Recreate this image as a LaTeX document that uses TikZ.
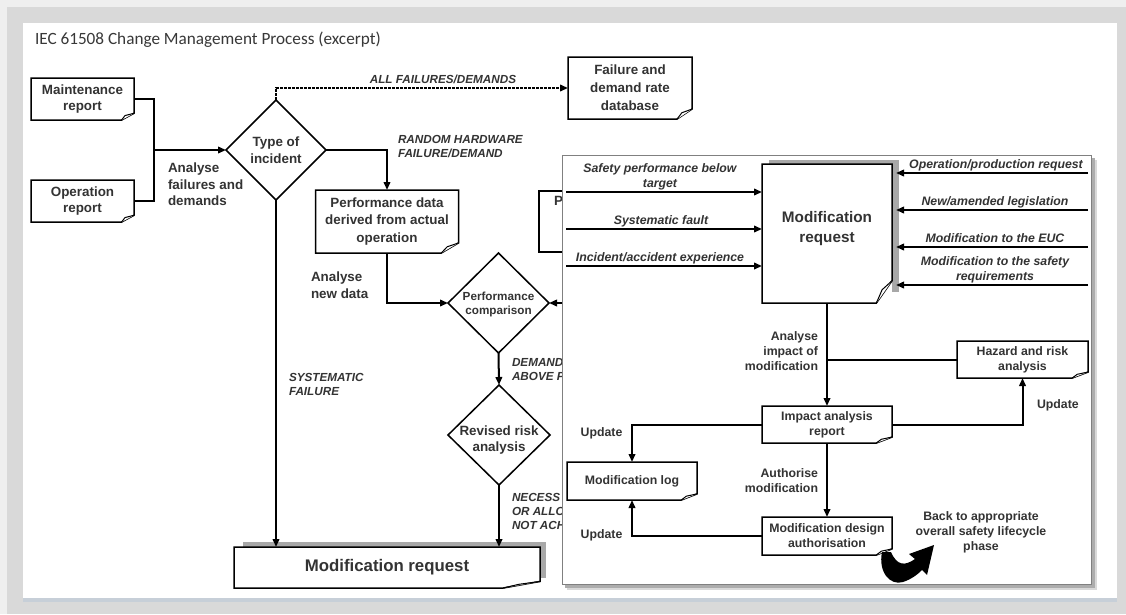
\documentclass[tikz,border=0pt]{standalone}
\usepackage{fontspec}
\setmainfont{Liberation Sans}
\newfontfamily\titlefont{Carlito}
\usetikzlibrary{arrows.meta,calc,shapes.geometric}

\definecolor{pagegray}{HTML}{D9D9D9}
\definecolor{pageedge}{HTML}{EFEFEF}
\definecolor{pageshade}{HTML}{C7CFD8}
\definecolor{inkgray}{HTML}{333333}
\definecolor{framegray}{HTML}{808080}
\definecolor{shadowgray}{HTML}{A8A8A8}

% outline of a document box: rectangle with a turned-down bottom right corner
\newcommand\docbox[1]{%
  \draw[boxline]
    (#1.north west) -- (#1.north east)
    -- ($(#1.south east)!0.16!(#1.north east)$) coordinate (#1-fa)
    -- ($(#1.south east)!0.12!(#1.south west)$) coordinate (#1-fb)
    -- (#1.south west) -- cycle;
  \draw[foldline] (#1-fb) -- ($(#1-fa)!0.5!(#1-fb)!3pt!(#1.center)$) -- (#1-fa);
}

\begin{document}
\begin{tikzpicture}[x=1pt,y=-1pt,
  every node/.style={inner sep=0pt, outer sep=0pt, text=inkgray},
  conn/.style={line width=2pt},
  arr/.style={conn, -{Triangle[length=8pt,width=6.5pt]}},
  boxline/.style={line width=1.5pt, line join=miter},
  foldline/.style={line width=1pt, fill=white, line join=round},
  doc/.style 2 args={fill=white, minimum width=#1, minimum height=#2, align=center},
  dia/.style 2 args={diamond, draw, line width=1.5pt, fill=white, minimum width=#1, minimum height=#2},
  ltxt/.style={font=\fontsize{13.4}{16.5}\bfseries\selectfont, align=center},
  lcap/.style={font=\fontsize{11.7}{14}\bfseries\itshape\selectfont, align=left},
  otxt/.style={font=\fontsize{12.3}{15}\bfseries\selectfont, align=center},
  oital/.style={font=\fontsize{12.3}{15}\bfseries\itshape\selectfont, align=center},
]
\useasboundingbox (0,0) rectangle (1126,614);

% page and sheet
\fill[pageedge] (0,0) rectangle (1126,614);
\fill[pagegray] (7,7) rectangle (1126,614);
\fill[white] (23,23) rectangle (1117,598);
\fill[pageshade] (23,598) rectangle (1117,602);

\node[font=\titlefont\fontsize{17.2}{20}\selectfont, anchor=base west, text=black!78]
  (title) at (35,44) {IEC 61508 Change Management Process (excerpt)};

% ---------------- incident analysis flow ----------------
\node[doc={103pt}{42pt}, ltxt] (maint) at (82.5,99) {Maintenance\\report};
\docbox{maint}
\node[doc={103pt}{42pt}, ltxt] (oper) at (82.5,201) {Operation\\report};
\docbox{oper}

\node[dia={100pt}{100pt}] (type) at (276,150) {};
\node[ltxt] (type-t) at (276,150) {Type of\\incident};

\node[doc={124pt}{62pt}, ltxt, font=\fontsize{13.4}{18}\bfseries\selectfont] (faildb) at (630,88) {Failure and\\demand rate\\database};
\docbox{faildb}

\node[doc={143pt}{63pt}, ltxt, font=\fontsize{13.4}{17.5}\bfseries\selectfont] (perf) at (387,221.5) {Performance data\\derived from actual\\operation};
\docbox{perf}

\node[draw, boxline, fill=white, minimum width=100pt, minimum height=61pt, anchor=north west] (pred) at (539,191) {};
\node[ltxt, anchor=west] (pred-t) at (554,201) {P};

\node[dia={101pt}{100pt}] (cmp) at (498.5,303) {};
\node[font=\fontsize{11.7}{14}\bfseries\selectfont, align=center] (cmp-t) at (498.5,304) {Performance\\comparison};

\node[dia={102pt}{100pt}] (rev) at (499,435) {};
\node[ltxt] (rev-t) at (499,440) {Revised risk\\analysis};

\fill[shadowgray] (243,542) rectangle (546,578);
\node[doc={306pt}{41pt}, font=\fontsize{16.8}{20}\bfseries\selectfont] (req) at (387,567.5) {Modification request};
\docbox{req}

\coordinate (jn) at (154,150);
\draw[conn] (maint.east) -| (jn);
\draw[conn] (oper.east) -| (jn);
\draw[arr] (jn) -- (type.west);
\node[ltxt, align=left, anchor=north west] (l-afd) at (168,163) {Analyse\\failures and\\demands};

\draw[conn, dash pattern=on 3pt off 1pt, -{Triangle[length=8pt,width=6.5pt]}] (type.north) |- (faildb.west);
\node[lcap, anchor=base] (l-all) at (443,83.2) {ALL FAILURES/DEMANDS};

\draw[arr] (type.east) -| (perf.north);
\node[lcap, anchor=north west] (l-rand) at (398,135.7) {RANDOM HARDWARE\\FAILURE/DEMAND};

\draw[arr] (perf.south) |- (cmp.west);
\node[ltxt, align=left, anchor=north west] (l-and) at (311,272) {Analyse\\new data};

\coordinate (predout) at (600,303);
\draw[arr] (predout) -- (cmp.east);
\draw[arr] (cmp.south) -- (rev.north);
\node[lcap, anchor=north west] (l-dem) at (512,358.7) {DEMAND\\ABOVE P};

\draw[arr] (rev.south) -- (rev.south |- req.north);
\node[lcap, anchor=north west] (l-nec) at (512,493.7) {NECESS\\OR ALLO\\NOT ACH};

\draw[arr] (type.south) -- (type.south |- req.north);
\node[lcap, anchor=north west] (l-sys) at (289,373.7) {SYSTEMATIC\\FAILURE};

% ---------------- modification handling panel ----------------
\fill[black!15] (567,160) rectangle (1097,590);
\fill[black!32] (565,158) rectangle (1095,588);
\node[draw=framegray, line width=1pt, fill=white, minimum width=529pt, minimum height=429pt, anchor=north west] (panel) at (562,155) {};

\fill[shadowgray] (769,160) rectangle (899,292);
\node[doc={130pt}{139pt}] (mr) at (827,233.5) {};
\docbox{mr}
\node[font=\fontsize{15.3}{20}\bfseries\selectfont, align=center, anchor=north] (mr-t) at (827,211.5) {Modification\\request};
\path (mr.east) ++(4,0) coordinate (mr-e);

\foreach \y/\n in {192/a,229/b,266/c}{
  \coordinate (in\n) at (566,\y);
  \draw[arr] (in\n) -- (in\n -| mr.west);
}
\node[oital, anchor=north] (t-a) at (660,163.5) {Safety performance below\\target};
\node[oital, anchor=base] (t-b) at (661,224.4) {Systematic fault};
\node[oital, anchor=base] (t-c) at (660,261.4) {Incident/accident experience};

\foreach \y/\n in {173/a,210/b,247/c,285/d}{
  \coordinate (out\n) at (1088,\y);
  \draw[arr] (out\n) -- (out\n -| mr-e);
}
\node[oital, anchor=base] (t-d) at (996,168.4) {Operation/production request};
\node[oital, anchor=base] (t-e) at (995,205.4) {New/amended legislation};
\node[oital, anchor=base] (t-f) at (995,242.4) {Modification to the EUC};
\node[oital, anchor=north] (t-g) at (995,256.5) {Modification to the safety\\requirements};

\node[doc={130pt}{37pt}, otxt] (imp) at (827,424.5) {Impact analysis\\report};
\docbox{imp}
\node[doc={131pt}{37pt}, otxt] (haz) at (1022.5,359.5) {Hazard and risk\\analysis};
\docbox{haz}
\node[doc={130pt}{38pt}, otxt] (log) at (632,481) {Modification log};
\docbox{log}
\node[doc={130pt}{38pt}, otxt] (des) at (827,536) {Modification design\\authorisation};
\docbox{des}

\draw[arr] (mr.south) -- (imp.north);
\draw[conn] (haz.west) -- (haz.west -| mr.south);
\draw[arr] (imp.east) -| (haz.south);
\draw[arr] (imp.west) -| (log.north);
\draw[arr] (imp.south) -- (des.north);
\draw[arr] (des.west) -| (log.south);

\node[otxt, align=right, anchor=north east] (t-aim) at (818,331.5) {Analyse\\impact of\\modification};
\node[otxt, align=right, anchor=north east] (t-auth) at (818,468.5) {Authorise\\modification};
\node[otxt, anchor=base west] (t-u1) at (1037,408.4) {Update};
\node[otxt, anchor=base] (t-u2) at (601.5,436.4) {Update};
\node[otxt, anchor=base] (t-u3) at (601.5,538.4) {Update};
\node[otxt, anchor=north] (t-back) at (981,511.5) {Back to appropriate\\overall safety lifecycle\\phase};

% curved return arrow
\fill[black] (882,552) .. controls (878,572) and (890,586) .. (903,582)
  .. controls (912,579) and (918,574) .. (922,570) -- (927,575) -- (934,545)
  -- (909,554) -- (915,559) .. controls (905,566) and (897,566) .. (891,552) -- cycle;
\end{tikzpicture}
\end{document}
